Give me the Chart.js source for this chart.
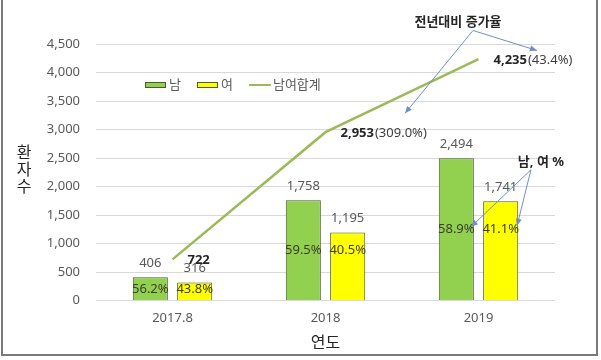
<!DOCTYPE html>
<html><head><meta charset="utf-8">
<script src="https://cdn.jsdelivr.net/npm/chart.js@4/dist/chart.umd.min.js"></script>
<style>
html,body{margin:0;padding:0;background:#fff;}
#wrap{position:relative;width:601px;height:360px;}
#frame{position:absolute;left:1px;top:-2px;width:593px;height:356px;border-left:2px solid #7a7a7a;border-right:2px solid #7a7a7a;border-bottom:2px solid #7a7a7a;pointer-events:none;}
</style></head>
<body>
<div id="wrap"><canvas id="c" width="601" height="360"></canvas><div id="frame"></div></div>
<script>
const categories = ['2017.8', '2018', '2019'];
const maleValues = [406, 1758, 2494];
const femaleValues = [316, 1195, 1741];
const totalValues = [722, 2953, 4235];
const malePct = ['56.2%', '59.5%', '58.9%'];
const femalePct = ['43.8%', '40.5%', '41.1%'];
const growthPct = ['', '(309.0%)', '(43.4%)'];
const yTicks = [0, 500, 1000, 1500, 2000, 2500, 3000, 3500, 4000, 4500];
const seriesNames = ['남', '여', '남여합계'];

const FONT = "'Noto Sans', 'Noto Sans CJK KR', sans-serif";
const fmt = v => v.toLocaleString('en-US');

// annotation anchors in data coordinates (category index, value)
const notes = {
  growth: {text: '전년대비 증가율', at: [1.866, 4878], from: [1.964, 4737], tips: [[1.52, 3283], [2.382, 4386]]},
  pct: {text: '남, 여 %', at: [2.408, 2417], from: [2.343, 2294], tips: [[1.951, 1292], [2.252, 1310]]}
};

function arrow(ctx, x1, y1, x2, y2, color) {
  ctx.save();
  ctx.strokeStyle = color; ctx.fillStyle = color; ctx.lineWidth = 1;
  ctx.beginPath(); ctx.moveTo(x1, y1); ctx.lineTo(x2, y2); ctx.stroke();
  const a = Math.atan2(y2 - y1, x2 - x1), L = 7, W = 3;
  ctx.beginPath();
  ctx.moveTo(x2, y2);
  ctx.lineTo(x2 - L * Math.cos(a) + W * Math.sin(a), y2 - L * Math.sin(a) - W * Math.cos(a));
  ctx.lineTo(x2 - L * Math.cos(a) - W * Math.sin(a), y2 - L * Math.sin(a) + W * Math.cos(a));
  ctx.closePath(); ctx.fill();
  ctx.restore();
}

const labelPlugin = {
  id: 'labels',
  afterDraw(chart) {
    const ctx = chart.ctx, xs = chart.scales.x, ys = chart.scales.y, ca = chart.chartArea;
    ctx.save();
    // bar value labels and percent labels
    const mMeta = chart.getDatasetMeta(0), fMeta = chart.getDatasetMeta(1), lMeta = chart.getDatasetMeta(2);
    ctx.textAlign = 'center'; ctx.textBaseline = 'middle';
    ctx.font = '13px ' + FONT;
    ctx.fillStyle = '#595959';
    mMeta.data.forEach((b, i) => ctx.fillText(fmt(maleValues[i]), b.x, b.y - 14));
    fMeta.data.forEach((b, i) => ctx.fillText(fmt(femaleValues[i]), b.x, b.y - 14));
    ctx.fillStyle = '#3d3d2b';
    mMeta.data.forEach((b, i) => {
      const midY = ys.getPixelForValue(maleValues[i] / 2);
      ctx.fillText(malePct[i], b.x, midY);
      ctx.fillText(femalePct[i], fMeta.data[i].x, midY);
    });
    // line labels
    ctx.textAlign = 'left';
    lMeta.data.forEach((p, i) => {
      const x = p.x + 15, y = p.y + 1;
      ctx.font = 'bold 13px ' + FONT; ctx.fillStyle = '#262626';
      const t = fmt(totalValues[i]);
      ctx.fillText(t, x, y);
      const w = ctx.measureText(t).width;
      ctx.font = '13px ' + FONT; ctx.fillStyle = '#404040';
      ctx.fillText(growthPct[i], x + w + 1, y);
    });
    // annotations
    const px = p => [xs.getPixelForValue(p[0]), ys.getPixelForValue(p[1])];
    Object.values(notes).forEach(n => {
      const [tx, ty] = px(n.at);
      ctx.font = 'bold 13px ' + FONT; ctx.fillStyle = '#262626'; ctx.textAlign = 'center';
      ctx.fillText(n.text, tx, ty);
      const [fx, fy] = px(n.from);
      n.tips.forEach(t => { const [x2, y2] = px(t); arrow(ctx, fx, fy, x2, y2, '#6f8fc4'); });
    });
    // legend
    const lx = ca.left + 49, ly = 85;
    ctx.font = '13px ' + FONT; ctx.textAlign = 'left'; ctx.fillStyle = '#595959';
    const items = [
      {type: 'box', color: '#92D050'},
      {type: 'box', color: '#FFFF00'},
      {type: 'line', color: '#9BBB59'}
    ];
    let cx = lx;
    items.forEach((it, i) => {
      if (it.type === 'box') {
        ctx.fillStyle = it.color; ctx.fillRect(cx, ly - 3, 21, 6);
        ctx.strokeStyle = '#4d5a2e'; ctx.lineWidth = 1; ctx.strokeRect(cx + 0.5, ly - 2.5, 20, 5);
      } else {
        ctx.strokeStyle = it.color; ctx.lineWidth = 2;
        ctx.beginPath(); ctx.moveTo(cx, ly); ctx.lineTo(cx + 22, ly); ctx.stroke();
      }
      ctx.fillStyle = '#595959';
      ctx.fillText(seriesNames[i], cx + 24, ly);
      cx += 24 + ctx.measureText(seriesNames[i]).width + 16;
    });
    // y title stacked
    ctx.font = '16px ' + FONT; ctx.fillStyle = '#262626'; ctx.textAlign = 'center';
    ['환', '자', '수'].forEach((ch, i) => ctx.fillText(ch, 24, 153 + i * 17));
    ctx.restore();
  }
};

new Chart(document.getElementById('c'), {
  type: 'bar',
  data: {
    labels: categories,
    datasets: [
      {label: seriesNames[0], data: maleValues, backgroundColor: '#92D050', borderColor: '#4d5a2e', borderWidth: 1, categoryPercentage: 0.58, barPercentage: 0.79, order: 2},
      {label: seriesNames[1], data: femaleValues, backgroundColor: '#FFFF00', borderColor: '#4d5a2e', borderWidth: 1, categoryPercentage: 0.58, barPercentage: 0.79, order: 2},
      {type: 'line', label: seriesNames[2], data: totalValues, borderColor: '#9BBB59', borderWidth: 2.5, pointRadius: 0, fill: false, tension: 0, order: 1}
    ]
  },
  options: {
    responsive: false, animation: false, devicePixelRatio: 1,
    layout: {padding: {left: 0, top: 44, right: 46, bottom: 0}},
    plugins: {legend: {display: false}, tooltip: {enabled: false}},
    scales: {
      x: {
        grid: {display: false, drawTicks: false},
        border: {display: false},
        ticks: {padding: 10, color: '#595959', font: {family: FONT, size: 13}},
        title: {display: true, text: '연도', color: '#262626', font: {family: FONT, size: 16}, padding: {top: 0, bottom: 7.4}},
        afterFit: s => { s.height = 59.5; }
      },
      y: {
        min: 0, max: 4500,
        afterBuildTicks: s => { s.ticks = yTicks.map(v => ({value: v})); },
        grid: {color: '#d9d9d9', drawTicks: false},
        border: {display: false},
        ticks: {padding: 16, color: '#595959', font: {family: FONT, size: 13}, callback: v => fmt(v)},
        afterFit: s => { s.width = 96; }
      }
    }
  },
  plugins: [labelPlugin]
});
</script>
</body></html>
